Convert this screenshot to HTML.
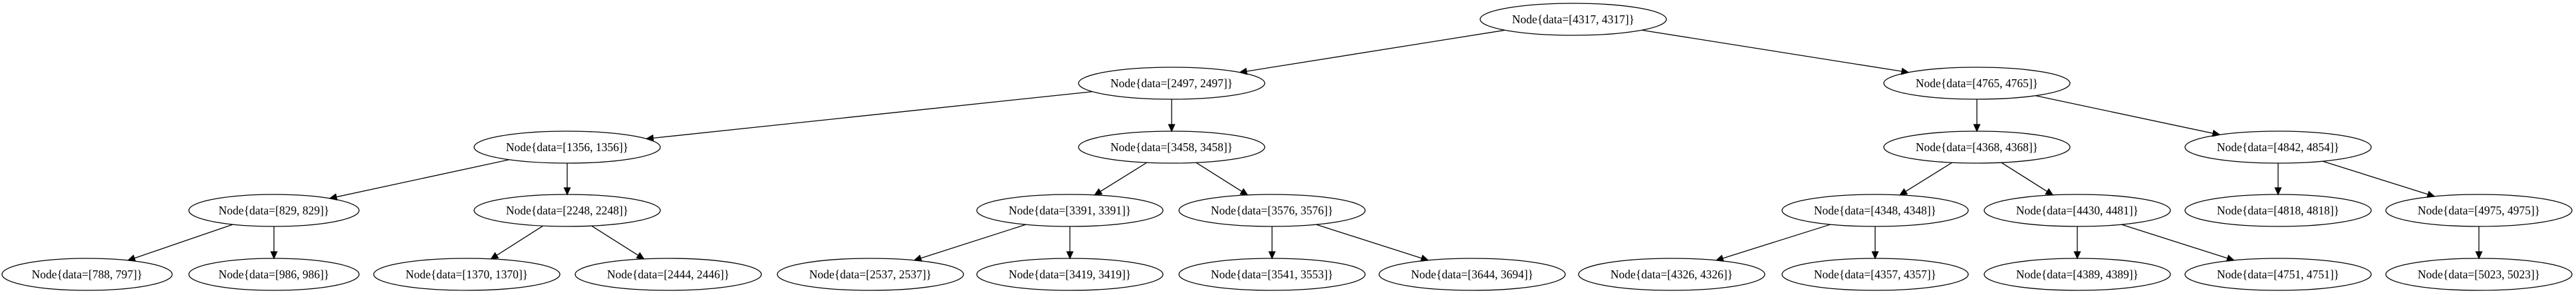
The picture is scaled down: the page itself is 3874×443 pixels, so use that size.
<!DOCTYPE html>
<html><head><meta charset="utf-8"><style>
html,body{margin:0;padding:0;background:#fff;}
svg{display:block;}
text{font-family:"Liberation Serif",serif;font-size:17.5px;fill:#000;}
</style></head><body>
<svg id="g" width="3874" height="443" viewBox="0 0 3874 443" xmlns="http://www.w3.org/2000/svg"></svg>
<script>
var L=[29,125,221,316,412];
var N={
r:[2366,0,"4317, 4317"],
a:[1762,1,"2497, 2497"],b:[2973,1,"4765, 4765"],
c:[853,2,"1356, 1356"],d:[1762,2,"3458, 3458"],e:[2973,2,"4368, 4368"],f:[3426,2,"4842, 4854"],
g:[412,3,"829, 829"],h:[853,3,"2248, 2248"],i:[1609,3,"3391, 3391"],j:[1913,3,"3576, 3576"],
k:[2820,3,"4348, 4348"],l:[3124,3,"4430, 4481"],m:[3426,3,"4818, 4818"],n:[3728,3,"4975, 4975"],
o:[131,4,"788, 797"],p:[412,4,"986, 986"],q:[702,4,"1370, 1370"],s:[1005,4,"2444, 2446"],
t:[1309,4,"2537, 2537"],u:[1609,4,"3419, 3419"],v:[1913,4,"3541, 3553"],w:[2214,4,"3644, 3694"],
x:[2514,4,"4326, 4326"],y:[2820,4,"4357, 4357"],z:[3124,4,"4389, 4389"],A:[3426,4,"4751, 4751"],B:[3728,4,"5023, 5023"]};
var E=[["r","a"],["r","b"],["a","c"],["a","d"],["b","e"],["b","f"],["c","g"],["c","h"],["d","i"],["d","j"],["e","k"],["e","l"],["f","m"],["f","n"],
["g","o"],["g","p"],["h","q"],["h","s"],["i","t"],["i","u"],["j","v"],["j","w"],["k","x"],["k","y"],["l","z"],["l","A"],["n","B"]];
var RY=24;
function rx(k){return N[k][2].length<9?128:140;}
function clip(cx,cy,rxx,dx,dy){var t=1/Math.sqrt(dx*dx/(rxx*rxx)+dy*dy/(RY*RY));return [cx+dx*t,cy+dy*t];}
var s="";
E.forEach(function(e){
 var A=N[e[0]],B=N[e[1]];var x1=A[0],y1=L[A[1]],x2=B[0],y2=L[B[1]];
 var dx=x2-x1,dy=y2-y1;
 var p=clip(x1,y1,rx(e[0]),dx,dy),q=clip(x2,y2,rx(e[1]),-dx,-dy);
 var ux=q[0]-p[0],uy=q[1]-p[1],len=Math.sqrt(ux*ux+uy*uy);ux/=len;uy/=len;
 var bx=q[0]-ux*10,by=q[1]-uy*10;
 s+='<line x1="'+p[0]+'" y1="'+p[1]+'" x2="'+bx+'" y2="'+by+'" stroke="#000" stroke-width="1.3"/>';
 s+='<polygon points="'+q[0]+','+q[1]+' '+(bx-uy*4.5)+','+(by+ux*4.5)+' '+(bx+uy*4.5)+','+(by-ux*4.5)+'" fill="#000" stroke="#000" stroke-width="1.3"/>';
});
for(var k in N){var n=N[k];var y=L[n[1]];
 s+='<ellipse cx="'+n[0]+'" cy="'+y+'" rx="'+rx(k)+'" ry="'+RY+'" fill="none" stroke="#000" stroke-width="1.3"/>';
 s+='<text x="'+n[0]+'" y="'+(y+6)+'" text-anchor="middle">Node{data=['+n[2]+']}</text>';
}
document.getElementById("g").innerHTML=s;
</script>
</body></html>
